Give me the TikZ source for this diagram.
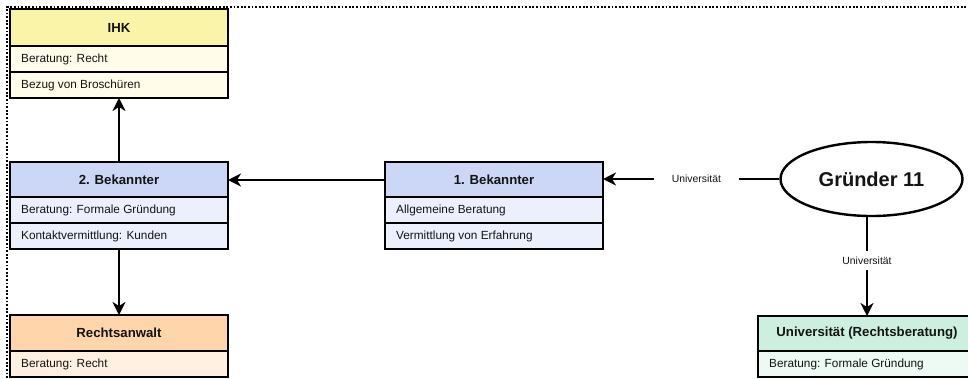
\documentclass[tikz,border=0pt]{standalone}
\usepackage{fontspec}
\setmainfont{Liberation Sans}
\usetikzlibrary{arrows.meta,shapes.geometric}
\definecolor{yelH}{RGB}{250,244,168}
\definecolor{yelR}{RGB}{255,253,234}
\definecolor{bluH}{RGB}{204,214,245}
\definecolor{bluR}{RGB}{236,240,252}
\definecolor{peaH}{RGB}{255,213,171}
\definecolor{peaR}{RGB}{255,240,226}
\definecolor{minH}{RGB}{205,239,223}
\definecolor{minR}{RGB}{237,250,243}
\definecolor{txt}{RGB}{20,20,20}
\tikzset{
  hdr/.style={draw=black, line width=2.3pt, anchor=north west, minimum width=218pt,
    minimum height=36pt, inner sep=0pt, outer sep=0pt, text=txt,
    font=\fontsize{13.2}{15}\selectfont\bfseries},
  rowbox/.style={draw=black, line width=2.3pt, anchor=north west, minimum width=218pt,
    minimum height=26pt, inner sep=0pt, outer sep=0pt, text=txt,
    font=\fontsize{11.8}{13}\selectfont},
  rowtxt/.style={anchor=west, inner sep=0pt, text=txt, font=\fontsize{11.8}{13}\selectfont},
  conn/.style={line width=2.4pt, -{Stealth[length=13pt,width=13pt,inset=4pt]}},
  lbl/.style={fill=white, inner xsep=18pt, inner ysep=6pt, text=txt, font=\fontsize{10.4}{12}\selectfont},
  frame/.style={line width=1.6pt, dash pattern=on 1.8pt off 1.8pt, black},
}
\begin{document}
\begin{tikzpicture}[x=1pt,y=-1pt]
\clip (0,0) rectangle (968,378);
\useasboundingbox (0,0) rectangle (968,378);
% dotted frame
\draw[frame] (7,378) -- (7,7) -- (968,7);

% IHK
\node[hdr, fill=yelH, minimum height=37pt] (ihk) at (10,9) {IHK};
\node[rowbox, fill=yelR] (ihkA) at (10,46) {};
\node[rowtxt] at ([xshift=11pt]ihkA.west) {Beratung: Recht};
\node[rowbox, fill=yelR] (ihkB) at (10,72) {};
\node[rowtxt] at ([xshift=11pt]ihkB.west) {Bezug von Broschüren};

% 2. Bekannter
\node[hdr, fill=bluH] (bzw) at (10,162) {2. Bekannter};
\node[rowbox, fill=bluR] (bzwA) at (10,197) {};
\node[rowtxt] at ([xshift=11pt]bzwA.west) {Beratung: Formale Gründung};
\node[rowbox, fill=bluR] (bzwB) at (10,223) {};
\node[rowtxt] at ([xshift=11pt]bzwB.west) {Kontaktvermittlung: Kunden};

% 1. Bekannter
\node[hdr, fill=bluH] (bei) at (385,162) {1. Bekannter};
\node[rowbox, fill=bluR] (beiA) at (385,197) {};
\node[rowtxt] at ([xshift=11pt]beiA.west) {Allgemeine Beratung};
\node[rowbox, fill=bluR] (beiB) at (385,223) {};
\node[rowtxt] at ([xshift=11pt]beiB.west) {Vermittlung von Erfahrung};

% Rechtsanwalt
\node[hdr, fill=peaH] (ra) at (10,315) {Rechtsanwalt};
\node[rowbox, fill=peaR] (raA) at (10,351) {};
\node[rowtxt] at ([xshift=11pt]raA.west) {Beratung: Recht};

% Universitaet
\node[hdr, fill=minH, minimum height=35pt] (uni) at (758,316) {Universität (Rechtsberatung)};
\node[rowbox, fill=minR] (uniA) at (758,351) {};
\node[rowtxt] at ([xshift=11pt]uniA.west) {Beratung: Formale Gründung};

% Gruender
\node[ellipse, draw=black, line width=2.4pt, fill=white, minimum width=182pt, minimum height=74pt,
  inner sep=0pt, text=txt, font=\fontsize{20}{24}\selectfont\bfseries] (g) at (871.5,179) {Gründer 11};

% connectors
\draw[conn] (bzw.north) -- (ihkB.south);
\draw[conn] (bei.west) -- (bzw.east);
\draw[conn] (bzwB.south) -- (ra.north);
\draw[conn] (g.west) -- node[lbl, pos=0.47] {Universität} (g.west -| bei.east);
\draw[conn] (g.south -| uni.north) -- node[lbl, pos=0.44, inner xsep=4pt] {Universität} (uni.north);
\end{tikzpicture}
\end{document}
